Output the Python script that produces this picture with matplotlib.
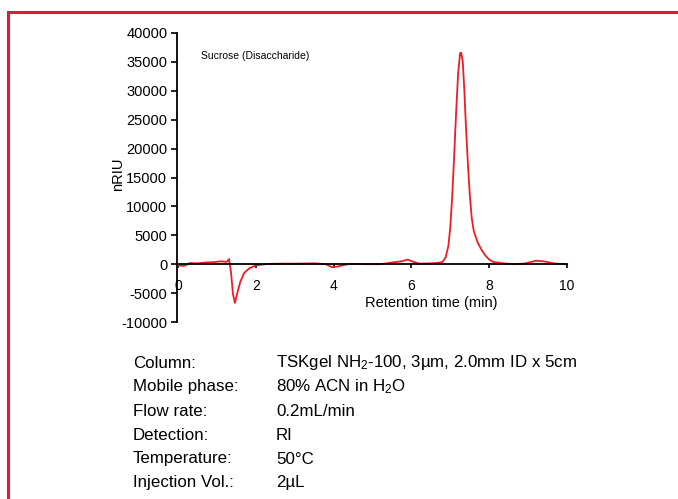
import matplotlib
matplotlib.use("Agg")
import matplotlib.pyplot as plt
import matplotlib.transforms as mtransforms
from matplotlib.patches import Rectangle

plt.rcParams['font.family'] = ['Liberation Sans', 'DejaVu Sans']
plt.rcParams['mathtext.default'] = 'regular'

# chromatogram trace
time_min = [0.0, 0.15, 0.3, 0.5, 0.7, 0.9, 1.1, 1.25, 1.31, 1.36, 1.41, 1.46,
            1.52, 1.6, 1.7, 1.83, 2.0, 2.3, 2.7, 3.1, 3.5, 3.8, 3.95, 4.1,
            4.4, 4.8, 5.2, 5.5, 5.75, 5.9, 6.05, 6.2, 6.5, 6.7, 6.8, 6.88,
            6.95, 7.0, 7.05, 7.1, 7.15, 7.2, 7.25, 7.28, 7.32, 7.36, 7.4,
            7.45, 7.5, 7.55, 7.6, 7.7, 7.8, 7.9, 8.0, 8.1, 8.3, 8.6, 8.9,
            9.2, 9.4, 9.7, 10.0]
signal = [-200, -300, 200, 150, 300, 350, 500, 400, 900, -1500, -5200, -6700,
          -5000, -3000, -1500, -700, -200, 50, 100, 100, 150, 0, -500, -400,
          50, 0, 0, 300, 500, 800, 400, 100, 150, 250, 400, 1200,
          3200, 6500, 12000, 19000, 26500, 33000, 36500, 36600, 35000, 30000,
          24000, 17500, 12000, 8000, 5800, 3800, 2500, 1500, 800, 400, 200,
          0, 100, 600, 500, 100, 0]

x_ticks = [0, 2, 4, 6, 8, 10]
y_ticks = list(range(-10000, 40001, 5000))

cond_labels = ["Column:", "Mobile phase:", "Flow rate:", "Detection:",
               "Temperature:", "Injection Vol.:"]
cond_values = ["TSKgel NH$_2$-100, 3µm, 2.0mm ID x 5cm", "80% ACN in H$_2$O",
               "0.2mL/min", "RI", "50°C", "2µL"]

red = "#e4173a"

fig = plt.figure(figsize=(6.78, 4.99), dpi=100)
ax = fig.add_axes([177 / 678, 1 - 322 / 499, 390 / 678, 289 / 499])

ax.plot(time_min, signal, color="#ee1c25", linewidth=1.3)

ax.set_xlim(-0.03, 10)
ax.set_ylim(-10000, 40000)
ax.set_xticks(x_ticks)
ax.set_yticks(y_ticks)
ax.set_yticklabels([str(v) for v in y_ticks], fontsize=10.5)
ax.set_xticklabels([str(v) for v in x_ticks], fontsize=10.5)

# the "0" label sits a little right of the spine in the original
zero_lab = ax.get_xticklabels()[0]
zero_lab.set_transform(zero_lab.get_transform()
                       + mtransforms.ScaledTranslation(5 / 100, 0, fig.dpi_scale_trans))

ax.spines['top'].set_visible(False)
ax.spines['right'].set_visible(False)
ax.spines['bottom'].set_position(('data', 0))
ax.spines['bottom'].set_linewidth(1.3)
ax.spines['left'].set_linewidth(1.3)
ax.tick_params(axis='y', direction='out', length=4, width=1.2, pad=3)
ax.tick_params(axis='x', direction='out', length=3, width=1.2, pad=8)

ax.set_ylabel("nRIU", fontsize=10.5)
ax.yaxis.set_label_coords(-0.133, 0.51)
ax.text(6.5, -6700, "Retention time (min)", ha='center', va='center', fontsize=10.5)
ax.text(0.6, 36000, "Sucrose (Disaccharide)", ha='left', va='center', fontsize=7.5)

# conditions block
for i, (lab, val) in enumerate(zip(cond_labels, cond_values)):
    y = 1 - (363 + 24 * i) / 499
    fig.text(133 / 678, y, lab, ha='left', va='center', fontsize=12.2)
    fig.text(276 / 678, y, val, ha='left', va='center', fontsize=12.2)

# red frame (open on right and bottom)
fig.patches.append(Rectangle((8 / 678, -0.1), 1.2, 1 - 12 / 499 + 0.1,
                             transform=fig.transFigure, fill=False,
                             edgecolor=red, linewidth=2.2))

fig.savefig("out.png", dpi=100)
